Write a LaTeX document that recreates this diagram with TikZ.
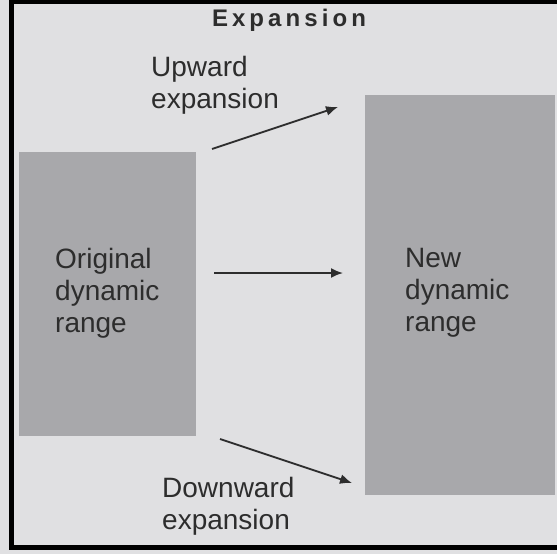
\documentclass[tikz,border=0pt]{standalone}
\usepackage{fontspec}
\setmainfont{Liberation Sans}
\newfontfamily\titlefont{Liberation Sans}[LetterSpace=17]
\usetikzlibrary{arrows.meta}
\definecolor{paper}{RGB}{224,224,226}
\definecolor{shade}{RGB}{168,168,171}
\definecolor{ink}{RGB}{45,45,45}
\tikzset{
  lbl/.style={anchor=base west, inner sep=0pt, align=left, text=ink,
    font=\fontsize{28}{32}\selectfont},
  rangebox/.style={fill=shade, inner sep=0pt},
  exparrow/.style={->, line width=1.8pt, draw=ink},
}
\begin{document}
\begin{tikzpicture}[x=1pt, y=-1pt, >={Latex[length=12pt,width=10pt]}]
    \useasboundingbox (0,0) rectangle (557,554);
    \fill[paper] (0,0) rectangle (557,554);
    \draw[line width=5pt] (11,1) rectangle (559,547);
    % the two ranges (labels sit on their last baseline)
    \node[rangebox, minimum width=177pt, minimum height=284pt] (orig) at (107,294) {};
    \node[rangebox, minimum width=190pt, minimum height=400pt] (new) at (460,295) {};
    \node[lbl] (origtxt) at (55,332) {Original\\dynamic\\range};
    \node[lbl] (newtxt) at (405,331) {New\\dynamic\\range};
    % title and side labels
    \node[anchor=base, inner sep=0pt, text=ink, font=\titlefont\bfseries\fontsize{24}{28}\selectfont] (title) at (289,27) {Expansion};
    \node[lbl] (uplbl) at (151,108) {Upward\\expansion};
    \node[lbl] (downlbl) at (162,529) {Downward\\expansion};
    % arrows
    \coordinate (upA) at (212,149);
    \coordinate (upB) at (338,107);
    \coordinate (midA) at (214,273);
    \coordinate (midB) at (343,273);
    \coordinate (downA) at (220,439);
    \coordinate (downB) at (352,483);
    \draw[exparrow] (upA) -- (upB);
    \draw[exparrow] (midA) -- (midB);
    \draw[exparrow] (downA) -- (downB);
\end{tikzpicture}
\end{document}
